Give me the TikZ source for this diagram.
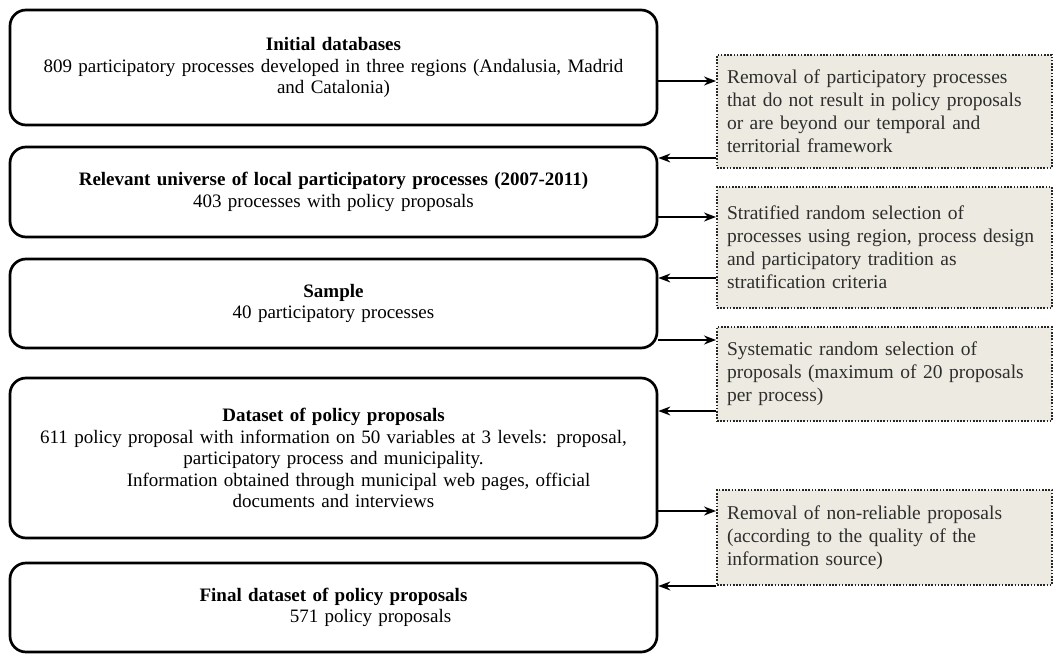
\documentclass[tikz,border=0pt]{standalone}
\usepackage{fontspec}
\setmainfont{Liberation Serif}
\usepackage{xcolor}
\usetikzlibrary{shapes,arrows,arrows.meta,positioning,calc}
\definecolor{notefill}{RGB}{237,235,225}

\begin{document}
\begin{tikzpicture}[x=1pt, y=-1pt,
    stage_box/.style={rectangle, draw=black, fill=white, text width=625pt, align=center, rounded corners=16pt, minimum width=647pt, font=\fontsize{19}{21.5}\selectfont, line width=2.7pt, inner xsep=11pt},
    filter_box/.style={rectangle, draw=black!85, fill=notefill, text width=315pt, align=left, minimum width=335pt, font=\fontsize{19.5}{23}\selectfont, text=black!82, line width=2pt, dash pattern=on 1.6pt off 1.6pt, inner xsep=10pt},
    main_arrow/.style={->, >={Stealth[length=12pt, width=9pt]}, line width=1.6pt}
]
\useasboundingbox (0,0) rectangle (1057,669);

% Left column: stages of the dataset
\node[stage_box, minimum height=115pt] (initial) at (333.5,67.5) {\textbf{Initial databases}\\809 participatory processes developed in three regions (Andalusia, Madrid\\and Catalonia)};
\node[stage_box, minimum height=90pt] (universe) at (333.5,192) {\textbf{Relevant universe of local participatory processes (2007-2011)}\\403 processes with policy proposals};
\node[stage_box, minimum height=89pt] (sample) at (333.5,303.5) {\textbf{Sample}\\40 participatory processes};
\node[stage_box, minimum height=160pt] (dataset) at (333.5,458) {\textbf{Dataset of policy proposals}\\611 policy proposal with information on 50 variables at 3 levels: proposal,\\participatory process and municipality.\\\hspace*{50pt}Information obtained through municipal web pages, official\\documents and interviews};
\node[stage_box, minimum height=89pt] (final) at (333.5,607.5) {\textbf{Final dataset of policy proposals}\\\hspace*{74pt}571 policy proposals};

% Right column: selection steps (dotted)
\node[filter_box, minimum height=113pt] (filter1) at (884.5,111.5) {Removal of participatory processes\\that do not result in policy proposals\\or are beyond our temporal and\\territorial framework};
\node[filter_box, minimum height=121pt] (filter2) at (884.5,247.5) {Stratified random selection of\\processes using region, process design\\and participatory tradition as\\stratification criteria};
\node[filter_box, minimum height=94pt] (filter3) at (884.5,374) {Systematic random selection of\\proposals (maximum of 20 proposals\\per process)};
\node[filter_box, minimum height=95pt] (filter4) at (884.5,537.5) {Removal of non-reliable proposals\\(according to the quality of the\\information source)};

% Flow: stage to selection step
\coordinate (out1) at ($(filter1.north west)+(0,27)$);
\coordinate (out2) at ($(filter2.north west)+(0,31)$);
\coordinate (out3) at ($(filter3.north west)+(0,14)$);
\coordinate (out4) at ($(filter4.north west)+(0,22)$);
\draw[main_arrow] (initial.east |- out1) -- (out1);
\draw[main_arrow] (universe.east |- out2) -- (out2);
\draw[main_arrow] (sample.east |- out3) -- (out3);
\draw[main_arrow] (dataset.east |- out4) -- (out4);

% Flow: selection step back to next stage
\coordinate (back1) at ($(filter1.south west)+(0,-11)$);
\coordinate (back2) at ($(filter2.south west)+(0,-31)$);
\coordinate (back3) at ($(filter3.south west)+(0,-11)$);
\coordinate (back4) at (filter4.south west);
\draw[main_arrow] (back1) -- (universe.east |- back1);
\draw[main_arrow] (back2) -- (sample.east |- back2);
\draw[main_arrow] (back3) -- (dataset.east |- back3);
\draw[main_arrow] (back4) -- (final.east |- back4);

\end{tikzpicture}
\end{document}
